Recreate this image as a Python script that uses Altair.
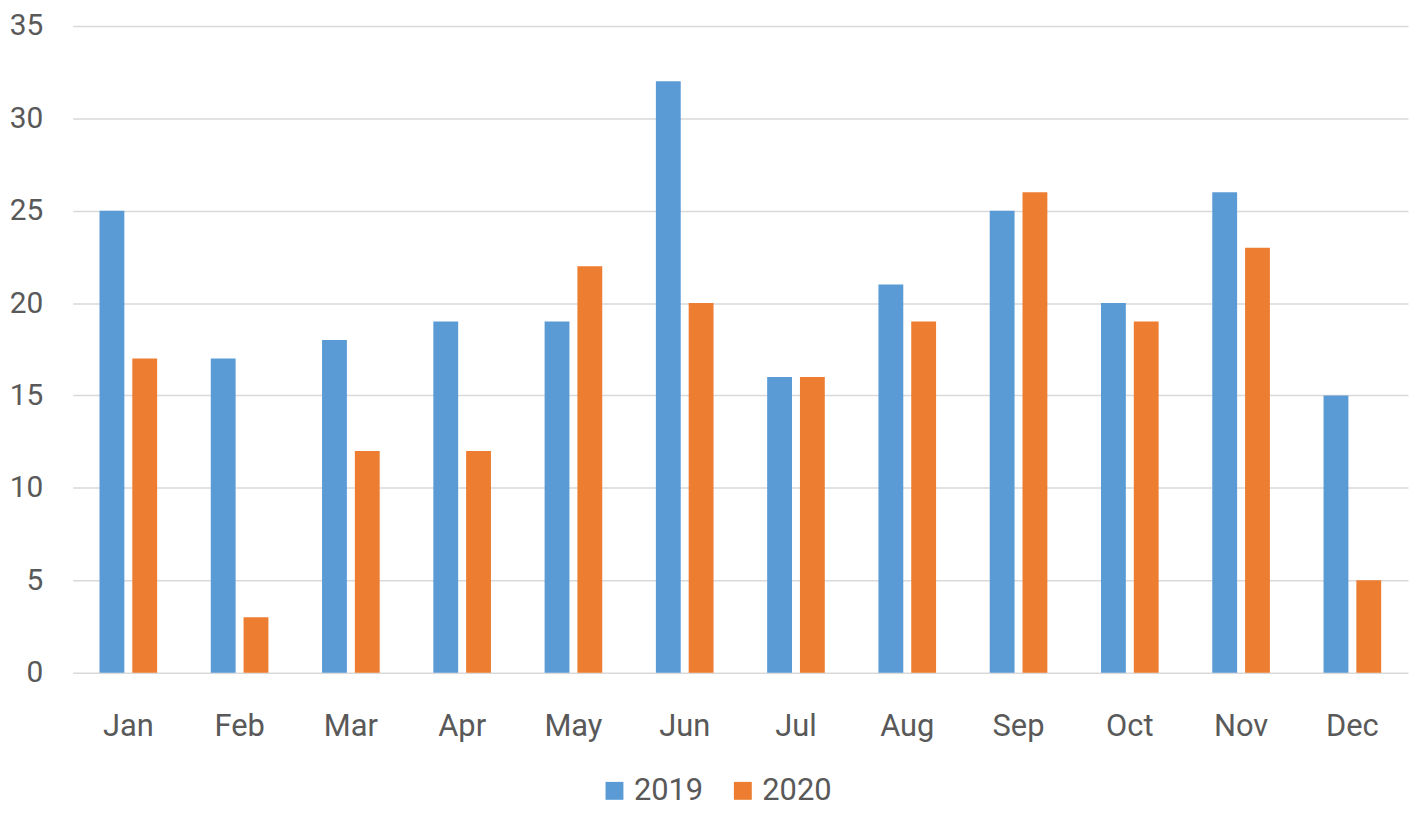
import altair as alt
import pandas as pd

months = ["Jan", "Feb", "Mar", "Apr", "May", "Jun", "Jul", "Aug", "Sep", "Oct", "Nov", "Dec"]
v2019 = [25, 17, 18, 19, 19, 32, 16, 21, 25, 20, 26, 15]
v2020 = [17, 3, 12, 12, 22, 20, 16, 19, 26, 19, 23, 5]
series = ["2019", "2020"]
colors = ["#5B9BD5", "#ED7D31"]

rows = []
for m, a, b in zip(months, v2019, v2020):
    rows.append({"month": m, "year": "2019", "value": a})
    rows.append({"month": m, "year": "2020", "value": b})
df = pd.DataFrame(rows)

FONT = "Roboto"
TXT = "#595959"

chart = alt.Chart(df).mark_bar().encode(
    x=alt.X("month:N", sort=months, title=None,
            scale=alt.Scale(paddingInner=0.482, paddingOuter=0.241),
            axis=alt.Axis(labelAngle=0, domain=False, ticks=False, labelFontSize=31,
                          labelColor=TXT, labelFont=FONT, labelPadding=39, grid=False)),
    xOffset=alt.XOffset("year:N", sort=series,
                        scale=alt.Scale(paddingInner=0.2424, paddingOuter=0)),
    y=alt.Y("value:Q", title=None,
            scale=alt.Scale(domain=[0, 35], nice=False),
            axis=alt.Axis(values=[0, 5, 10, 15, 20, 25, 30, 35], domain=False, ticks=False,
                          labelFontSize=30, labelColor=TXT, labelFont=FONT, labelPadding=30,
                          gridColor="#D9D9D9", gridWidth=1.5)),
    color=alt.Color("year:N", sort=series,
                    scale=alt.Scale(domain=series, range=colors),
                    legend=alt.Legend(title=None, orient="none", direction="horizontal",
                                      legendX=529, legendY=753, symbolType="square",
                                      symbolSize=324, symbolStrokeWidth=0, labelFontSize=31,
                                      labelColor=TXT, labelFont=FONT, labelOffset=4,
                                      columnPadding=24, padding=0)),
).properties(
    width=1342, height=650,
    autosize=alt.AutoSizeParams(type="none"),
    padding={"left": 65, "top": 16, "right": 2, "bottom": 137},
).configure_view(stroke=None)

chart.save("out.html", embed_options={"renderer": "svg", "actions": False})
